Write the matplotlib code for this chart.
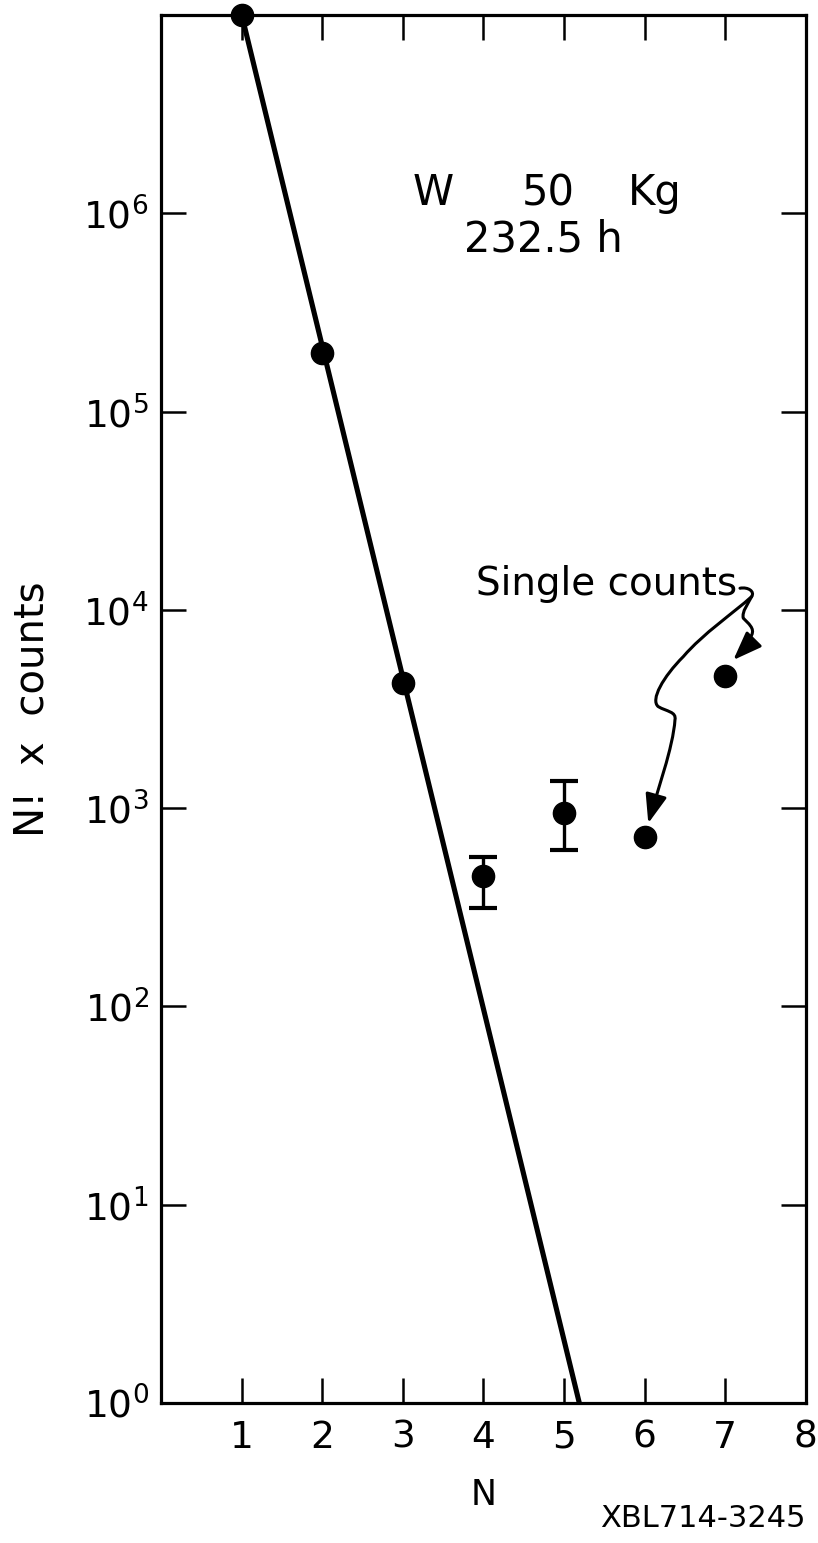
import numpy as np
import matplotlib
matplotlib.use("Agg")
import matplotlib.pyplot as plt
from matplotlib.path import Path
from matplotlib.patches import FancyArrowPatch
from matplotlib.ticker import LogFormatterMathtext, FixedLocator, NullLocator

# measured points (N! x counts)
n_err = [4, 5]
counts_err = [455, 945]
err_low = [315, 615]
err_high = [565, 1370]

n_pts = [1, 2, 3, 6, 7]
counts_pts = [1.0e7, 1.97e5, 4.3e3, 715, 4640]

# fitted line (end points)
fit_n = [1.0, 5.19]
fit_counts = [1.0e7, 1.0]

x_ticks = [1, 2, 3, 4, 5, 6, 7, 8]
x_tick_labels = ["1", "2", "3", "4", "5", "6", "7", "8"]
y_ticks = [1e0, 1e1, 1e2, 1e3, 1e4, 1e5, 1e6]

plt.rcParams['font.family'] = ['DejaVu Sans']

fig = plt.figure(figsize=(8.18, 15.43), dpi=100)
ax = fig.add_axes([0.197, 0.0907, 0.788, 0.8996])

ax.set_yscale('log')
ax.set_xlim(0, 8)
ax.set_ylim(1, 1e7)

ax.plot(fit_n, fit_counts, color='black', lw=3.7, solid_capstyle='butt', zorder=2)
ax.plot(n_pts, counts_pts, 'o', color='black', ms=16, zorder=3, clip_on=False)

yerr = [np.array(counts_err) - np.array(err_low), np.array(err_high) - np.array(counts_err)]
ax.errorbar(n_err, counts_err, yerr=yerr, fmt='o', color='black', ms=16,
            elinewidth=2.4, capsize=10, capthick=3, zorder=3)

# ticks: inward on all sides
ax.xaxis.set_major_locator(FixedLocator(x_ticks))
ax.set_xticklabels(x_tick_labels)
ax.yaxis.set_major_locator(FixedLocator(y_ticks))
ax.yaxis.set_major_formatter(LogFormatterMathtext())
ax.yaxis.set_minor_locator(NullLocator())
ax.tick_params(axis='both', which='major', direction='in', length=18, width=1.8,
               top=True, right=True, labelsize=27, pad=12)
ax.tick_params(axis='y', pad=9)
for s in ax.spines.values():
    s.set_linewidth(2.3)

ax.set_xlabel("N", fontsize=25, labelpad=16)
ax.set_ylabel("N!  x  counts", fontsize=29)
ax.yaxis.set_label_coords(-0.168, 0.5)

# text labels
ax.text(3.375, 10**6.10, "W", fontsize=30, ha='center', va='center')
ax.text(4.81, 10**6.10, "50", fontsize=30, ha='center', va='center')
ax.text(6.13, 10**6.10, "Kg", fontsize=30, ha='center', va='center')
ax.text(4.74, 10**5.87, "232.5 h", fontsize=30, ha='center', va='center')
ax.text(7.146, 10**4.075, "Single counts", fontsize=28, ha='right', va='baseline')

# curly arrows from the label to the single-count points (x, log10 y)
long_path = [(7.184, 4.109), (7.287, 4.117), (7.370, 4.092), (7.329, 4.067),
             (7.101, 3.983), (6.729, 3.882), (6.480, 3.764),
             (6.232, 3.663), (6.067, 3.546), (6.170, 3.512),
             (6.274, 3.487), (6.398, 3.487), (6.377, 3.445),
             (6.356, 3.310), (6.150, 3.075), (6.046, 2.924)]
short_path = [(7.329, 4.067), (7.287, 4.033), (7.204, 3.991), (7.225, 3.958),
              (7.287, 3.932), (7.370, 3.907), (7.329, 3.873),
              (7.287, 3.832), (7.184, 3.781), (7.101, 3.747)]


def curly(pts):
    verts = [(x, 10 ** ly) for x, ly in pts]
    codes = [Path.MOVETO] + [Path.CURVE4] * (len(verts) - 1)
    return Path(verts, codes)


for p in (long_path, short_path):
    arr = FancyArrowPatch(path=curly(p), arrowstyle='-|>,head_length=0.8,head_width=0.3',
                          mutation_scale=22, lw=2.2, color='black',
                          transform=ax.transData)
    ax.add_patch(arr)

fig.text(0.985, 0.0104, "XBL714-3245", fontsize=22, ha='right', va='baseline')

fig.savefig("out.png", dpi=100)
